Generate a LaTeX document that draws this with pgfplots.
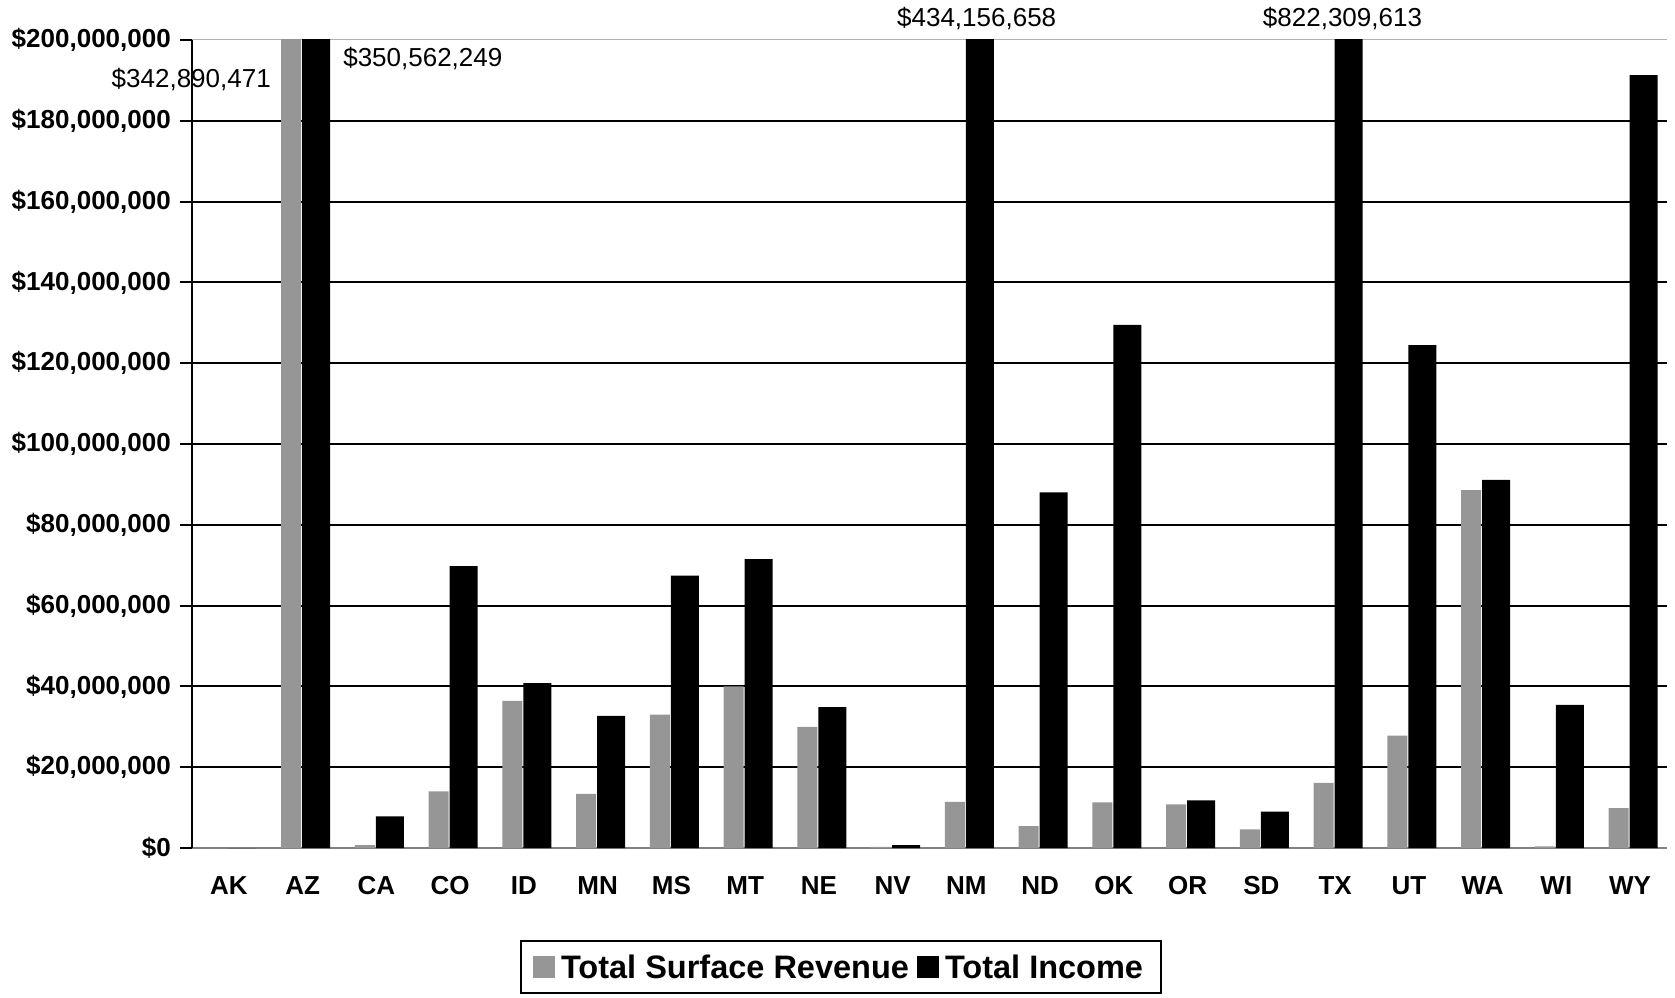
\documentclass[border=0pt]{standalone}
\usepackage{fontspec}
\setmainfont{Liberation Sans}
\usepackage{pgfplots}
\pgfplotsset{compat=1.18}
\definecolor{barGray}{RGB}{150,150,150}

\begin{document}
\begin{tikzpicture}
\useasboundingbox (-192pt,-149pt) rectangle (1483pt,848pt);
\begin{axis}[
  at={(0,0)}, anchor=south west,
  scale only axis, width=1475pt, height=808pt,
  xmin=-0.5, xmax=19.5, ymin=0, ymax=200000000,
  scaled y ticks=false,
  clip mode=individual,
  axis x line*=bottom, axis y line*=left,
  x axis line style={draw=gray, line width=1.5pt},
  y axis line style={draw=black, line width=2.5pt},
  xtick={0,1,2,3,4,5,6,7,8,9,10,11,12,13,14,15,16,17,18,19},
  xticklabels={AK,AZ,CA,CO,ID,MN,MS,MT,NE,NV,NM,ND,OK,OR,SD,TX,UT,WA,WI,WY},
  x tick style={draw=none},
  xticklabel style={font=\fontsize{26}{30}\selectfont\bfseries, inner sep=0pt, anchor=north, yshift=-28pt},
  ytick={0,20000000,40000000,60000000,80000000,100000000,120000000,140000000,160000000,180000000},
  yticklabels={{\$0},{\$20,000,000},{\$40,000,000},{\$60,000,000},{\$80,000,000},{\$100,000,000},{\$120,000,000},{\$140,000,000},{\$160,000,000},{\$180,000,000}},
  extra y ticks={200000000},
  extra y tick labels={\$200{,}000{,}000},
  extra y tick style={grid style={draw=gray!60, line width=1pt}},
  yticklabel style={font=\fontsize{26}{30}\selectfont\bfseries, inner sep=0pt, anchor=east, xshift=-9pt},
  ytick align=outside, major tick length=12pt,
  y tick style={draw=black, line width=2pt},
  ymajorgrids, grid style={draw=black, line width=2pt},
  legend columns=2,
  legend style={at={(0.2224,-0.1139)}, anchor=north west, draw=black, line width=2pt,
    font=\fontsize{32.5}{36}\selectfont\bfseries, inner xsep=12pt, inner ysep=9.5pt,
    nodes={inner ysep=4pt, inner xsep=6pt},
    /tikz/every even column/.append style={column sep=2pt}},
  legend cell align=left,
]
\addplot[ybar, bar width=20pt, bar shift=-11.6pt, fill=barGray, draw=none,
  legend image code/.code={\fill[barGray] (0pt,-11pt) rectangle (22pt,11pt);}]
  coordinates {
  (0,0) (1,342890471) (2,700000) (3,14000000) (4,36400000) (5,13400000)
  (6,33000000) (7,40000000) (8,30000000) (9,300000) (10,11400000)
  (11,5400000) (12,11300000) (13,10800000) (14,4600000) (15,16100000)
  (16,27800000) (17,88600000) (18,400000) (19,9900000)};
\addlegendentry{Total Surface Revenue}
\addplot[ybar, bar width=28pt, bar shift=13.4pt, fill=black, draw=none,
  legend image code/.code={\fill[black] (0pt,-11pt) rectangle (22pt,11pt);}]
  coordinates {
  (0,0) (1,350562249) (2,7800000) (3,69800000) (4,40800000) (5,32700000)
  (6,67400000) (7,71500000) (8,34900000) (9,700000) (10,434156658)
  (11,88000000) (12,129500000) (13,11800000) (14,9000000) (15,822309613)
  (16,124500000) (17,91100000) (18,35400000) (19,191300000)};
\addlegendentry{Total Income}
\node[font=\fontsize{26}{30}\selectfont] at (axis cs:-0.51,190100000) {\$342,890,471};
\node[font=\fontsize{26}{30}\selectfont] at (axis cs:2.63,195300000) {\$350,562,249};
\node[font=\fontsize{26}{30}\selectfont] at (axis cs:10.14,205200000) {\$434,156,658};
\node[font=\fontsize{26}{30}\selectfont] at (axis cs:15.1,205200000) {\$822,309,613};
\end{axis}
\end{tikzpicture}
\end{document}
